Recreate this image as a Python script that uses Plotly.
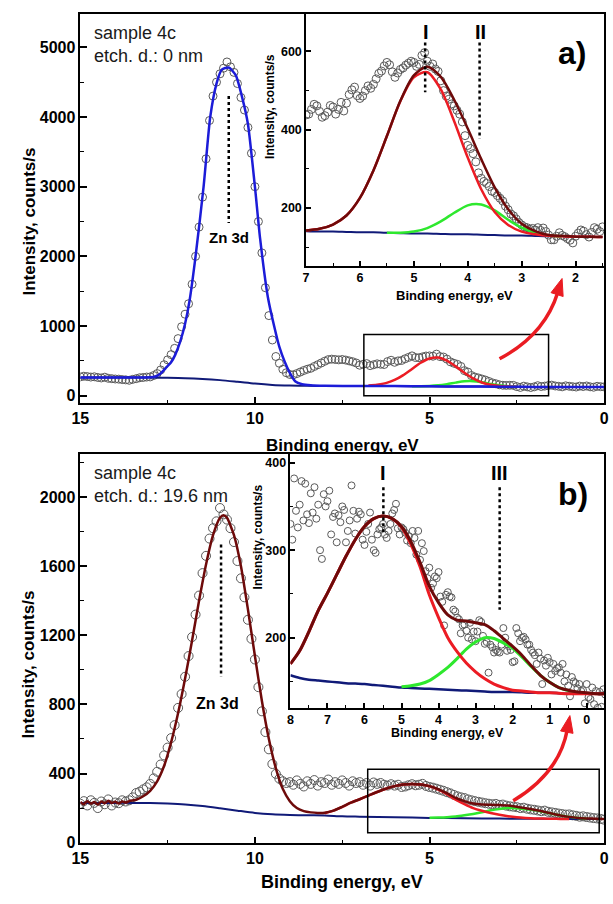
import numpy as np
import plotly.graph_objects as go

W, H = 613, 904
FONT = "Liberation Sans, Arial, sans-serif"

# ---------------- Panel a : main spectrum (15.0 -> 0.0 eV, step 0.1) ----------------
a_main_counts = [
    270, 280, 275, 268, 272, 262, 255, 266, 250, 245, 240, 238, 232, 228, 222, 235, 245, 258, 262, 268, 270,
    290, 318, 370, 445, 515, 590, 680, 820, 990, 1170, 1320, 1600, 2000, 2420, 2850, 3400, 3950, 4300, 4500, 4620,
    4700, 4790, 4720, 4640, 4480, 4280, 4100, 3850, 3480, 3000,
    2500, 2050, 1550, 1150, 800, 563, 466, 380, 330, 305, 300, 318, 340, 362, 380, 394, 420, 445, 470, 495,
    518, 525, 520, 515, 520, 512, 500, 488, 470,
    438, 452, 461, 432, 445, 458, 452, 448, 490, 509, 480, 500, 506, 530, 550, 572, 548, 545, 558, 570,
    572, 567, 597, 562, 555, 525, 486, 466, 450, 420, 360, 339, 290, 268, 255, 240, 225, 205, 185, 172,
    157, 150, 148, 150, 149, 131, 119, 137, 127, 118, 128, 144, 132, 138, 146, 152,
    140, 135, 128, 142, 136, 130, 125, 138, 132, 140, 128, 122, 135, 130, 127,
]
a_fit_E = [15.0, 14.0, 13.4, 13.0, 12.85, 12.7, 12.56, 12.4, 12.28, 12.14, 12.0, 11.87, 11.7, 11.47, 11.28,
           11.1, 10.95, 10.75, 10.55, 10.35, 10.2, 10.0, 9.85, 9.63, 9.45, 9.3, 9.15, 9.02, 8.84, 8.65, 8.4,
           8.0, 7.0, 6.0, 5.0, 4.0, 3.0, 2.0, 1.0, 0.0]
a_fit_I = [262, 262, 260, 264, 276, 320, 394, 480, 590, 776, 1033, 1370, 2000, 3000, 4000,
           4480, 4680, 4710, 4600, 4250, 3900, 3000, 2250, 1418, 1000, 700, 490, 347, 204, 166, 150,
           143, 140, 138, 135, 133, 130, 127, 126, 125]
a_bg_E = [15.0, 14.0, 13.0, 12.5, 12.0, 11.5, 11.0, 10.5, 10.0, 9.5, 9.0, 8.5, 8.0, 7.0, 6.0, 5.0, 4.0, 3.0, 2.0, 1.0, 0.0]
a_bg_I = [262, 262, 260, 257, 252, 241, 224, 200, 174, 155, 146, 142, 141, 140, 138, 135, 133, 130, 127, 126, 125]

# ---------------- Panel a : inset (7.00 -> 1.50 eV, step 0.05) ----------------
a_ins_counts = [
    438, 440, 452, 465, 461, 447, 432, 436, 445, 462,
    458, 440, 452, 470, 448, 468, 490, 502, 509, 487,
    480, 486, 500, 512, 506, 516, 530, 544, 550, 563,
    572, 566, 548, 534, 545, 554, 558, 565, 570, 575,
    572, 562, 567, 590, 597, 575, 562, 568, 555, 549,
    525, 500, 486, 478, 466, 461, 450, 440, 420, 385,
    360, 352, 339, 318, 290, 276, 268, 263, 255, 243,
    240, 232, 225, 218, 205, 196, 185, 180, 172, 163,
    157, 152, 150, 146, 148, 144, 150, 143, 149, 140,
    131, 119, 119, 128, 137, 130, 127, 122, 118, 111,
    128, 136, 144, 141, 132, 126, 138, 150, 146, 140,
    152,
]
a_comp_E = [7.0, 6.75, 6.5, 6.25, 6.0, 5.75, 5.5, 5.25, 5.0, 4.75, 4.5, 4.25, 4.0, 3.75, 3.5, 3.25,
            3.0, 2.75, 2.5, 2.25, 2.0, 1.75, 1.5]
a_comp_bg = [141, 140, 140, 139, 138, 138, 137, 136, 135, 135, 134, 133, 133, 132, 131, 130, 130, 129, 128, 128, 127, 127, 126]
a_comp_I = [143, 147, 158, 181, 226, 296, 384, 473, 534, 547, 503, 421, 329, 248, 190, 157, 140, 133, 129, 128, 127, 127, 126]
a_comp_II = [141, 140, 140, 139, 138, 138, 137, 137, 140, 149, 166, 188, 207, 209, 194, 170, 150, 137, 130, 128, 127, 127, 126]
a_comp_sum = [143, 147, 158, 181, 226, 296, 384, 474, 539, 561, 535, 476, 403, 325, 253, 197, 160, 141, 131, 129, 127, 127, 126]

# ---------------- Panel b : main spectrum (15.0 -> 0.0 eV, step 0.1) ----------------
b_main_counts = [
    225, 240, 215, 245, 230, 200, 238, 222, 250, 215, 232, 228, 245, 238, 245, 262, 287, 295, 308, 320, 340,
    372, 410, 452, 505, 550, 605, 680, 780, 860, 960, 1080, 1190, 1320, 1430, 1560, 1660, 1760, 1820, 1860, 1937,
    1900, 1870, 1820, 1740, 1630, 1530, 1420, 1290, 1180, 1060,
    900, 760, 640, 540, 455, 398, 370, 355, 345, 350, 335, 360, 340, 325, 355, 340, 362, 330, 350, 345,
    365, 335, 350, 340, 360, 345, 330, 355, 345,
    350, 335, 345, 330, 348, 340, 345, 335, 330, 338, 330, 335, 322, 325, 332, 338, 332, 335, 340, 328,
    322, 318, 312, 306, 300, 292, 285, 276, 268, 262, 258, 250, 245, 240, 236, 232, 228, 225, 222, 224,
    218, 220, 214, 210, 208, 205, 200, 202, 196, 192, 190, 186, 182, 185, 178, 175,
    172, 168, 165, 162, 163, 158, 155, 150, 152, 148, 145, 142, 140, 137, 133,
]
b_fit_E = [15.0, 14.9, 14.8, 14.7, 14.6, 14.5, 14.4, 14.3, 14.2, 14.1, 14.0, 13.9, 13.8, 13.7, 13.6, 13.4, 13.2,
           13.0, 12.8, 12.6, 12.4, 12.2, 12.0, 11.8, 11.6, 11.4, 11.2, 11.0, 10.9, 10.8, 10.6, 10.4, 10.2, 10.0,
           9.8, 9.6, 9.4, 9.2, 9.0, 8.8, 8.6, 8.4, 8.2, 8.0, 7.75, 7.5, 7.25, 7.0, 6.75, 6.5, 6.25, 6.0, 5.75,
           5.5, 5.25, 5.0, 4.75, 4.5, 4.25, 4.0, 3.75, 3.5, 3.25, 3.0, 2.75, 2.5, 2.25, 2.0, 1.75, 1.5, 1.25,
           1.0, 0.75, 0.5, 0.25, 0.0]
b_fit_I = [236, 222, 240, 226, 235, 220, 238, 228, 242, 230, 236, 226, 238, 232, 240, 248, 268,
           300, 355, 445, 580, 750, 950, 1170, 1400, 1610, 1780, 1880, 1895, 1880, 1780, 1600, 1350, 1080,
           820, 600, 430, 310, 240, 200, 182, 175, 172, 173, 185, 207, 231, 251, 272, 293, 312, 327, 336,
           339, 336, 327, 310, 286, 259, 240, 226, 220, 219, 217, 215, 208, 199, 190, 180, 168, 157,
           149, 143, 140, 138, 137]
b_bg_E = [15.0, 14.0, 13.5, 13.0, 12.5, 12.0, 11.5, 11.0, 10.5, 10.0, 9.5, 9.0, 8.5, 8.0, 7.5, 7.0, 6.0, 5.0, 4.0, 3.0, 2.0, 1.0, 0.0]
b_bg_I = [230, 230, 230, 229, 226, 221, 212, 199, 185, 172, 164, 160, 158, 157, 152, 150, 147, 143, 141, 139, 138, 137, 136]

# ---------------- Panel b : inset (8.00 -> -0.50 eV, step 0.05) ----------------
b_ins_counts = [
    330, 312, 382, 345, 326, 352, 379, 334, 376, 341,
    331, 365, 343, 372, 336, 352, 300, 290, 364, 350,
    356, 368, 318, 338, 342, 309, 340, 332, 350, 346,
    309, 322, 334, 374, 345, 319, 336, 344, 341, 312,
    306, 321, 330, 343, 312, 300, 297, 318, 324, 326,
    330, 318, 314, 322, 330, 342, 346, 353, 325, 318,
    326, 324, 320, 311, 316, 308, 322, 314, 295, 322,
    289, 308, 299, 276, 268, 280, 257, 262, 270, 268,
    275, 247, 241, 214, 249, 252, 247, 246, 232, 230,
    223, 221, 205, 214, 215, 208, 200, 217, 198, 207,
    196, 207, 220, 218, 202, 193, 195, 160, 192, 189,
    183, 186, 184, 183, 192, 211, 200, 185, 190, 186,
    172, 173, 211, 205, 196, 200, 201, 198, 192, 192,
    186, 183, 180, 170, 183, 176, 147, 174, 168, 177,
    172, 158, 170, 162, 165, 166, 160, 170, 150, 158,
    145, 133, 155, 150, 148, 142, 147, 139, 140, 125,
    147, 132, 130, 143, 124, 139, 120, 138, 121, 141,
    135,
]
b_comp_E = [8.0, 7.75, 7.5, 7.25, 7.0, 6.75, 6.5, 6.25, 6.0, 5.75, 5.5, 5.25, 5.0, 4.75, 4.5, 4.25, 4.0,
            3.75, 3.5, 3.25, 3.0, 2.75, 2.5, 2.25, 2.0, 1.75, 1.5, 1.25, 1.0, 0.75, 0.5, 0.25, 0.0, -0.25, -0.5]
b_comp_bg = [157, 154, 152, 151, 150, 149, 148, 147.5, 147, 146, 145, 144, 143, 142.5, 142, 141.5, 141,
             140.5, 140, 139.5, 139, 138.5, 138, 138, 138, 137.5, 137, 137, 137, 136.5, 136, 136, 136, 136, 136]
b_comp_I = [170, 185, 207, 231, 251, 272, 293, 312, 327, 336, 339, 336, 326, 307, 281, 249, 223,
            200, 184, 171, 161, 153, 147, 143, 140, 139, 138, 137, 137, 136.5, 136, 136, 136, 136, 136]
b_comp_III = [157, 154, 152, 151, 150, 149, 148, 147.5, 147, 146, 145, 144, 144, 145, 147, 151, 158,
              166, 176, 187, 195, 200, 199, 194, 188, 178, 167, 157, 149, 143, 139.5, 137.5, 136.5, 136, 136]
b_comp_sum = [170, 185, 207, 231, 251, 272, 293, 312, 327, 336, 339, 336, 327, 310, 286, 259, 240,
              226, 220, 219, 217, 215, 208, 199, 190, 180, 168, 157, 149, 143, 140, 138, 137, 136, 136]

# peak markers (binding energies) and zoom boxes
zn_a, pk_a_I, pk_a_II = 10.75, 4.79, 3.78
zn_b, pk_b_I, pk_b_III = 10.97, 5.49, 2.35
box_a = (6.88, 1.59, 0, 880)
box_b = (6.77, 0.14, 57, 424)

# ---------------- build ----------------
E_a = np.round(15.0 - 0.1 * np.arange(len(a_main_counts)), 2)
E_b = np.round(15.0 - 0.1 * np.arange(len(b_main_counts)), 2)
E_ai = np.round(7.0 - 0.05 * np.arange(len(a_ins_counts)), 3)
E_bi = np.round(8.0 - 0.05 * np.arange(len(b_ins_counts)), 3)

C_DATA = "#5a5a5a"
C_BLUE = "#1c1cd8"
C_NAVY = "#101a78"
C_RED = "#ec1c24"
C_GREEN = "#2ee82e"
C_DRED = "#6e0a0a"

fig = go.Figure()


def sel(xs, ys, lo, hi):
    xs = np.asarray(xs, dtype=float)
    ys = np.asarray(ys, dtype=float)
    m = (xs >= lo) & (xs <= hi)
    return xs[m], ys[m]


def pts(x, y, ax, size):
    fig.add_trace(go.Scatter(x=x, y=y, mode="markers", xaxis="x" + ax, yaxis="y" + ax,
                             marker=dict(symbol="circle-open", size=size, color=C_DATA,
                                         line=dict(width=1, color=C_DATA)),
                             hoverinfo="skip"))


def line(xy, ax, color, width=2.5, smooth=0.8):
    x, y = xy
    fig.add_trace(go.Scatter(x=x, y=y, mode="lines", xaxis="x" + ax, yaxis="y" + ax,
                             line=dict(color=color, width=width, shape="spline", smoothing=smooth),
                             hoverinfo="skip"))


def dotted(x, y0, y1, ax):
    fig.add_trace(go.Scatter(x=[x, x], y=[y0, y1], mode="lines", xaxis="x" + ax, yaxis="y" + ax,
                             line=dict(color="black", width=2.5, dash="dot"), hoverinfo="skip"))


# panel a main (axis '' -> x/y)
pts(E_a, a_main_counts, "", 8)
line((a_bg_E, a_bg_I), "", C_NAVY, 2)
line(sel(a_comp_E, a_comp_II, 2.5, 5.5), "", C_GREEN)
line(sel(a_comp_E, a_comp_I, 2.5, 6.75), "", C_RED)
line((a_fit_E, a_fit_I), "", C_BLUE, 2.5, 0.6)
dotted(zn_a, 4300, 2480, "")
# panel a inset
pts(E_ai, a_ins_counts, "2", 8)
line((a_comp_E, a_comp_bg), "2", C_NAVY, 2)
line(sel(a_comp_E, a_comp_II, 2.25, 5.5), "2", C_GREEN)
line((a_comp_E, a_comp_I), "2", C_RED)
line((a_comp_E, a_comp_sum), "2", C_DRED)
dotted(pk_a_I, 623, 496, "2")
dotted(pk_a_II, 623, 377, "2")
# panel b main
pts(E_b, b_main_counts, "3", 9)
line((b_bg_E, b_bg_I), "3", C_NAVY, 2)
line(sel(b_comp_E, b_comp_III, 0.5, 5.0), "3", C_GREEN)
line(sel(b_comp_E, b_comp_I, 1.0, 8.0), "3", C_RED)
line((b_fit_E, b_fit_I), "3", C_DRED, 2.5, 0.6)
dotted(zn_b, 1726, 960, "3")
# panel b inset
pts(E_bi, b_ins_counts, "4", 7)
line((b_comp_E, b_comp_bg), "4", C_NAVY, 2.5)
line(sel(b_comp_E, b_comp_III, 0.25, 5.0), "4", C_GREEN, 3)
line((b_comp_E, b_comp_I), "4", C_RED, 3)
line((b_comp_E, b_comp_sum), "4", C_DRED, 3)
dotted(pk_b_I, 372, 319, "4")
dotted(pk_b_III, 372, 232, "4")


def px_x(px):
    return px / W


def px_y(py):
    return 1 - py / H


def axis(rng, dtick, mdtick, size, dom, anchor, ticklen=7):
    return dict(range=rng, domain=dom, anchor=anchor, showline=True, linecolor="black", linewidth=1.5,
                mirror=True, ticks="inside", ticklen=ticklen, tickwidth=1.5, tickcolor="black",
                dtick=dtick, tick0=0, showgrid=False, zeroline=False, ticklabeloverflow="allow",
                minor=dict(ticks="inside", ticklen=ticklen * 0.55, tickwidth=1.2, dtick=mdtick, tick0=0,
                           tickcolor="black", showgrid=False),
                tickfont=dict(family=FONT, size=size, color="black", weight="bold"))


layout = dict(
    width=W, height=H, margin=dict(l=0, r=0, t=0, b=0), showlegend=False,
    paper_bgcolor="white", plot_bgcolor="white",
    xaxis=axis([15, 0], 5, 2.5, 16, [px_x(73), px_x(609)], "y"),
    yaxis=axis([-110, 5480], 1000, 500, 16, [px_y(407), px_y(14)], "x"),
    xaxis2=axis([7, 1.47], 1, 0.5, 12.5, [px_x(304), px_x(609)], "y2", 5),
    yaxis2=axis([53, 696], 200, 100, 12.5, [px_y(268), px_y(14)], "x2", 5),
    xaxis3=axis([15, 0], 5, 2.5, 16, [px_x(73), px_x(609)], "y3"),
    yaxis3=axis([-5, 2250], 400, 200, 16, [px_y(851), px_y(458)], "x3"),
    xaxis4=axis([8, -0.47], 1, 0.5, 12.5, [px_x(288), px_x(609)], "y4", 5),
    yaxis4=axis([120, 410], 100, 50, 12.5, [px_y(714), px_y(458)], "x4", 5),
)
fig.update_layout(**layout)

shapes = []
for (x0, x1, y0, y1), ax in ((box_a, ""), (box_b, "3")):
    shapes.append(dict(type="rect", xref="x" + ax, yref="y" + ax, x0=x0, x1=x1, y0=y0, y1=y1,
                       line=dict(color="black", width=1.5), fillcolor="rgba(0,0,0,0)"))


def arrow(start, ctrl, tip, hl=17, hw=13, width=3.5, color="#ea1c22"):
    sx, sy = start
    cx, cy = ctrl
    tx, ty = tip
    dx, dy = tx - cx, ty - cy
    n = (dx * dx + dy * dy) ** 0.5
    dx, dy = dx / n, dy / n
    bx, by = tx - dx * hl, ty - dy * hl
    pxp, pyp = -dy, dx
    p = lambda x, y: f"{px_x(x):.5f},{px_y(y):.5f}"
    body = f"M {p(sx, sy)} Q {p(cx, cy)} {p(bx + dx * 2, by + dy * 2)}"
    head = (f"M {p(tx, ty)} L {p(bx + pxp * hw / 2, by + pyp * hw / 2)} "
            f"L {p(bx - pxp * hw / 2, by - pyp * hw / 2)} Z")
    shapes.append(dict(type="path", xref="paper", yref="paper", path=body,
                       line=dict(color=color, width=width)))
    shapes.append(dict(type="path", xref="paper", yref="paper", path=head,
                       line=dict(color=color, width=1), fillcolor=color))


arrow((502, 362), (548, 338), (566, 281))
arrow((516, 808), (563, 780), (574, 722))
fig.update_layout(shapes=shapes)

ann = []


def text(t, x, y, size, bold=True, angle=0, xanchor="center", color="black"):
    ann.append(dict(text=t, x=px_x(x), y=px_y(y), xref="paper", yref="paper", showarrow=False,
                    xanchor=xanchor, yanchor="middle", textangle=angle,
                    font=dict(family=FONT, size=size, color=color, weight="bold" if bold else "normal")))


# panel a texts
text("sample 4c", 85, 33, 18, bold=False, xanchor="left", color="#1a1a1a")
text("etch. d.: 0 nm", 85, 57, 18, bold=False, xanchor="left", color="#1a1a1a")
text("Zn 3d", 225, 240, 15)
text("I", 427, 32, 20)
text("II", 483, 32, 20)
text("a)", 576, 53, 32)
text("Intensity, counts/s", 20, 224, 17, angle=-90)
text("Binding energy, eV", 341, 449, 17)
text("Intensity, counts/s", 267, 107, 12, angle=-90)
text("Binding energy, eV", 456, 298, 13)
# panel b texts
text("sample 4c", 85, 477, 18, bold=False, xanchor="left", color="#1a1a1a")
text("etch. d.: 19.6 nm", 85, 500, 18, bold=False, xanchor="left", color="#1a1a1a")
text("Zn 3d", 213, 710, 16)
text("I", 383, 477, 20)
text("III", 502, 477, 20)
text("b)", 577, 498, 32)
text("Intensity, counts/s", 20, 671, 17, angle=-90)
text("Binding energy, eV", 341, 890, 18)
text("Intensity, counts/s", 255, 542, 12, angle=-90)
text("Binding energy, eV", 449, 740, 12.5)
fig.update_layout(annotations=ann)

fig.write_html("out.html")
